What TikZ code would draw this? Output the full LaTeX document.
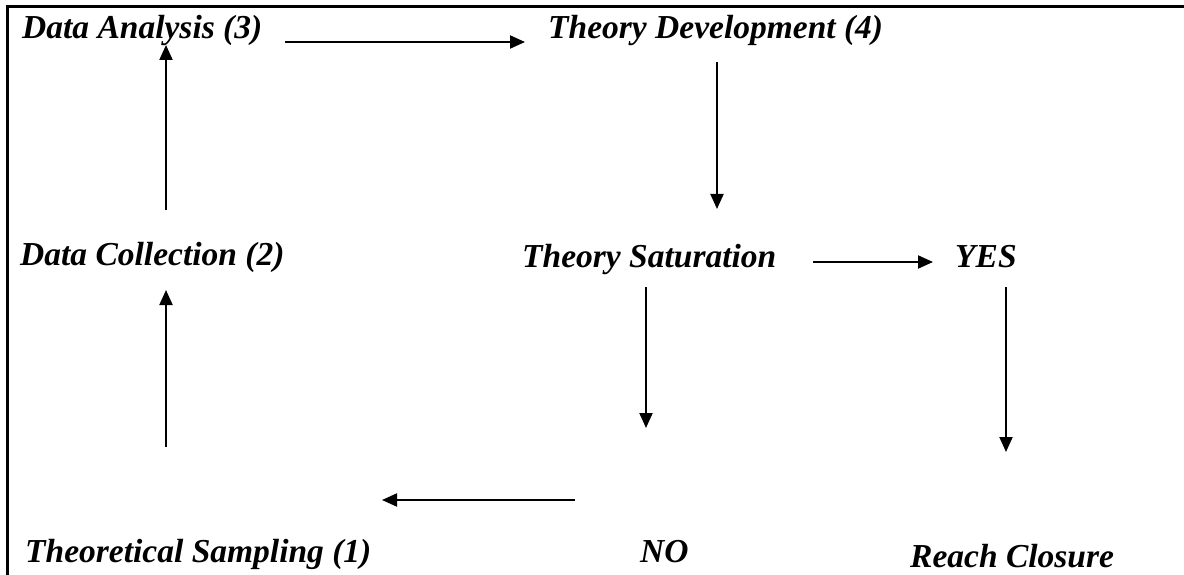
\documentclass[tikz,border=0pt]{standalone}
\usepackage{fontspec}
\setmainfont{Liberation Serif}
\usetikzlibrary{arrows.meta}
\begin{document}
\begin{tikzpicture}[x=1pt,y=-1pt,
  lbl/.style={anchor=base west,inner sep=0pt,font=\fontsize{33.5}{36}\selectfont\bfseries\itshape},
  conn/.style={line width=2pt,-{Triangle[length=15pt,width=13pt]}}]
\useasboundingbox (0,0) rectangle (1184,575);
\draw[line width=3pt] (7,575) -- (7,7) -- (1184,7);
\node[lbl] (da) at (22,39) {Data Analysis (3)};
\node[lbl] (td) at (548,39) {Theory Development (4)};
\node[lbl] (dc) at (20,265) {Data Collection (2)};
\node[lbl] (ts) at (522,267) {Theory Saturation};
\node[lbl] (yes) at (955,267) {YES};
\node[lbl] (ts1) at (25,562) {Theoretical Sampling (1)};
\node[lbl] (no) at (640,562) {NO};
\node[lbl] (rc) at (910,567) {Reach Closure};
\coordinate (a1s) at (285,42); \coordinate (a1e) at (525,42);
\coordinate (a2s) at (717,62); \coordinate (a2e) at (717,209);
\coordinate (a3s) at (166,210); \coordinate (a3e) at (166,45);
\coordinate (a4s) at (813,262); \coordinate (a4e) at (933,262);
\coordinate (a5s) at (646,287); \coordinate (a5e) at (646,428);
\coordinate (a6s) at (1006,287); \coordinate (a6e) at (1006,452);
\coordinate (a7s) at (166,447); \coordinate (a7e) at (166,290);
\coordinate (a8s) at (575,500); \coordinate (a8e) at (382,500);
\foreach \s/\e in {a1s/a1e,a2s/a2e,a3s/a3e,a4s/a4e,a5s/a5e,a6s/a6e,a7s/a7e,a8s/a8e}
  \draw[conn] (\s) -- (\e);
\end{tikzpicture}
\end{document}
